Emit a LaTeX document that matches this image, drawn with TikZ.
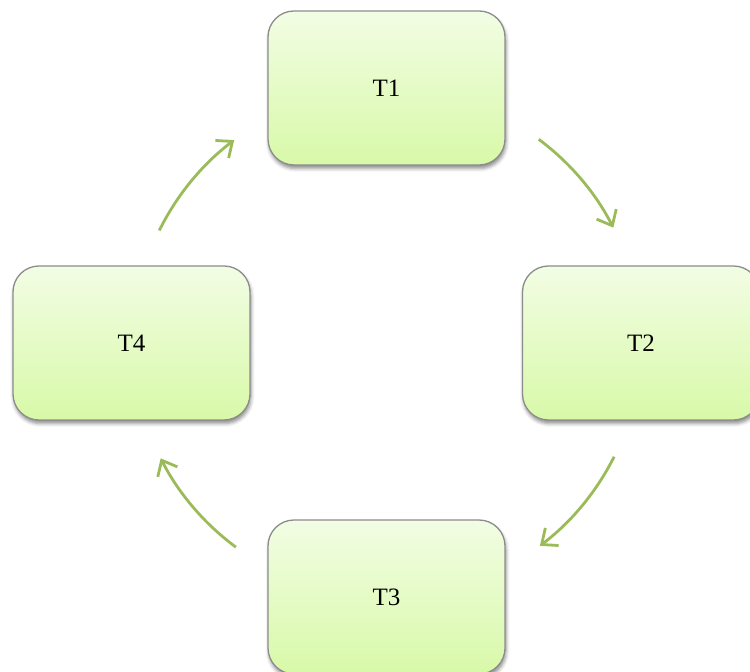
\documentclass[tikz,border=0pt]{standalone}
\usepackage{fontspec}
\setmainfont{Liberation Serif}
\usetikzlibrary{shadows.blur,arrows.meta}
\definecolor{boxtop}{HTML}{F2FDE4}
\definecolor{boxbot}{HTML}{D8F9A8}
\definecolor{boxline}{HTML}{8C8C8C}
\definecolor{arrowgreen}{HTML}{9BBB59}
\tikzset{
  taskbox/.style={rectangle, rounded corners=26pt, draw=boxline, line width=1.3pt,
    top color=boxtop, bottom color=boxbot,
    minimum width=237pt, minimum height=154pt, inner sep=0pt,
    font=\fontsize{25}{30}\selectfont,
    blur shadow={shadow xshift=1pt, shadow yshift=-3.5pt, shadow blur radius=3.5pt, shadow opacity=45}},
  cyclearrow/.style={draw=arrowgreen, line width=2.8pt,
    -{Straight Barb[length=13pt,width=22pt,line width=2.8pt]}}
}
\begin{document}
\begin{tikzpicture}[x=1pt,y=1pt]
\useasboundingbox (0,0) rectangle (750,672);
\clip (0,0) rectangle (750,672);
\node[taskbox] (t1) at (386.5,584) {T1};
\node[taskbox] (t2) at (641,329) {T2};
\node[taskbox] (t3) at (386.5,75) {T3};
\node[taskbox] (t4) at (131.5,329) {T4};
\coordinate (c) at (387,329);
\draw[cyclearrow] ([shift={(53.3:254)}]c) arc[start angle=53.3, end angle=27, radius=254];
\draw[cyclearrow] ([shift={(-26.6:254)}]c) arc[start angle=-26.6, end angle=-53, radius=254];
\draw[cyclearrow] ([shift={(-126.5:254)}]c) arc[start angle=-126.5, end angle=-153, radius=254];
\draw[cyclearrow] ([shift={(153.7:254)}]c) arc[start angle=153.7, end angle=127, radius=254];
\end{tikzpicture}
\end{document}
